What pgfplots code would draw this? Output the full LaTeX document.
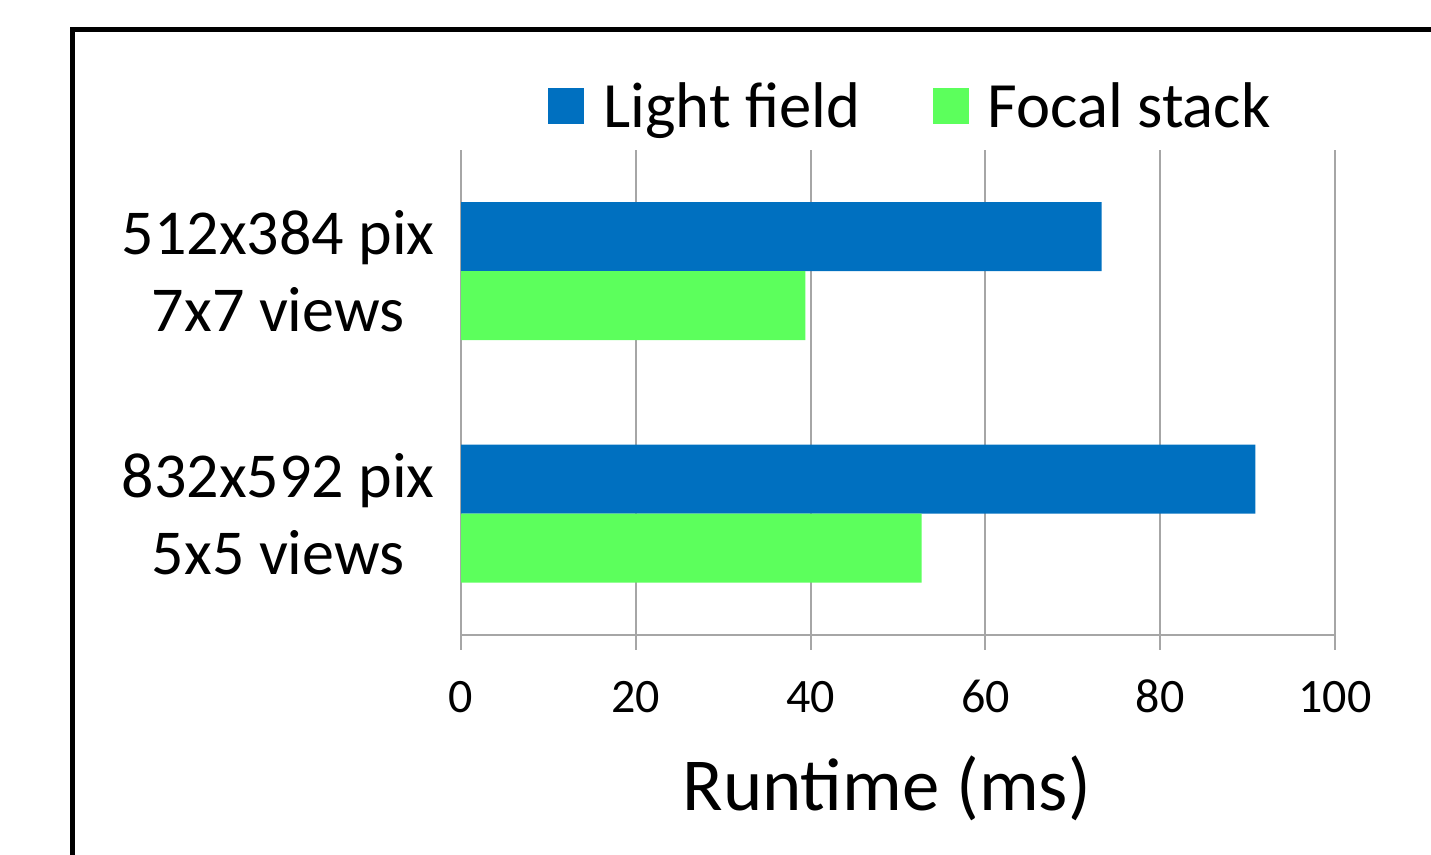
\documentclass[border=0pt]{standalone}
\usepackage{fontspec}
\setmainfont{Carlito}
\usepackage{pgfplots}
\pgfplotsset{compat=1.18}
\definecolor{lfblue}{HTML}{0070C0}
\definecolor{fsgreen}{HTML}{5CFF5C}
\definecolor{gridgray}{HTML}{A6A6A6}
\begin{document}
\begin{tikzpicture}
\useasboundingbox (0,0) rectangle (715.5pt,427.5pt);
\begin{scope}
\clip (0,0) rectangle (715.5pt,427.5pt);
\draw[line width=2.5pt] (36.25pt,412.75pt) rectangle (740pt,-20pt);
\end{scope}
\begin{axis}[
  at={(230.5pt,110pt)}, anchor=south west,
  scale only axis, width=437pt, height=242.5pt,
  xbar, bar width=34.5pt,
  xmin=0, xmax=100, ymin=-0.5, ymax=1.5,
  xtick={0,20,40,60,80,100},
  ytick={0,1},
  yticklabels={832x592 pix\\5x5 views, 512x384 pix\\7x7 views},
  /pgf/number format/assume math mode=true,
  axis x line*=bottom, axis y line*=left,
  axis line style={-, draw=gridgray, line width=1pt},
  xmajorgrids, grid style={draw=gridgray, line width=1pt},
  tick align=outside, major tick length=7.5pt,
  xtick style={draw=gridgray, line width=1pt},
  ytick style={draw=none},
  xticklabel style={font=\fontsize{24}{28}\selectfont, anchor=base, yshift=-31.5pt, inner sep=0pt},
  yticklabel style={font=\fontsize{32}{38.5}\selectfont, align=center, anchor=east, inner sep=0pt, xshift=-5.5pt},
  xlabel={Runtime (ms)},
  xlabel style={font=\fontsize{37.4}{44}\selectfont, at={(axis description cs:0.487,0)}, anchor=base, yshift=-88pt, inner sep=0pt},
  legend columns=2,
  legend style={draw=none, fill=none, at={(axis description cs:0.5155,1.09)}, anchor=center,
    font=\fontsize{32.3}{38}\selectfont, inner sep=0pt,
    /tikz/every even column/.append style={column sep=34pt}},
  legend image code/.code={\fill[#1, draw=none] (0pt,-9pt) rectangle (18pt,9pt);},
  legend cell align=left,
]
\addplot[fill=lfblue, draw=none, bar shift=17.25pt] coordinates {(90.9,0) (73.3,1)};
\addlegendentry{\hspace{7.5pt}Light field}
\addplot[fill=fsgreen, draw=none, bar shift=-17.25pt] coordinates {(52.7,0) (39.4,1)};
\addlegendentry{\hspace{7.5pt}Focal stack}
\end{axis}
\end{tikzpicture}
\end{document}
